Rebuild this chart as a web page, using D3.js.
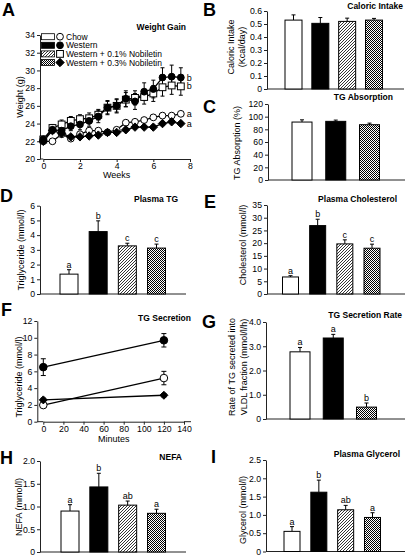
<!DOCTYPE html>
<html><head><meta charset="utf-8">
<script src="https://cdn.jsdelivr.net/npm/d3@7/dist/d3.min.js"></script>
<style>
body{margin:0;background:#fff}
svg{display:block;font-family:"Liberation Sans",Arial,sans-serif}
</style></head><body>
<svg id="c" width="405" height="557"></svg>
<script>
// ---------------- data ----------------
const groups = ["Chow","Western","Western + 0.1% Nobiletin","Western + 0.3% Nobiletin"];
// A: weight gain
const weeks = [0,0.5,1,1.5,2,2.5,3,3.5,4,4.5,5,5.5,6,6.5,7,7.5];
const wtChow = [22.0,22.0,22.8,22.3,22.8,23.2,23.2,23.0,23.3,24.1,24.2,24.4,24.7,24.9,24.9,25.1];
const wtChowErr = [0.2,0.2,0.3,0.2,0.3,0.3,0.2,0.2,0.2,0.2,0.2,0.2,0.2,0.2,0.2,0.2];
const wtWestern = [22.2,23.3,23.2,23.7,23.9,24.3,24.8,25.8,26.0,26.8,26.5,27.6,27.9,29.2,29.3,29.2];
const wtWesternErr = [0.4,0.4,0.5,0.5,0.6,0.6,0.7,0.8,0.8,0.9,0.9,1.0,1.0,1.1,1.3,1.1];
const wt01 = [22.2,23.5,23.9,24.3,24.5,24.6,25.0,25.8,26.0,26.7,26.9,27.0,27.4,28.1,28.3,28.2];
const wt01Err = [0.3,0.4,0.5,0.5,0.5,0.6,0.6,0.7,0.7,0.8,0.8,0.8,0.9,1.0,1.0,1.0];
const wt03 = [22.0,23.2,22.9,22.5,22.5,22.6,22.7,23.0,23.0,23.3,23.6,23.6,23.6,24.0,24.2,24.0];
const wt03Err = [0.2,0.2,0.2,0.2,0.2,0.2,0.2,0.2,0.2,0.2,0.2,0.2,0.2,0.2,0.2,0.2];
const wtSig = ["a","b","b","a"];
const weekTicks = [0,2,4,6,8];
const weightTicks = [20,22,24,26,28,30,32,34];
// B: caloric intake
const calIntake = [0.53,0.505,0.52,0.53];
const calIntakeErr = [0.04,0.045,0.025,0.013];
const calTicks = [0,0.1,0.2,0.3,0.4,0.5,0.6];
// C: TG absorption
const tgAbsGroups = [0,1,3];
const tgAbs = [91.5,92.6,87.3];
const tgAbsErr = [3.5,2,2.5];
const tgAbsTicks = [0,20,40,60,80,100,120];
// D: plasma TG
const plasmaTG = [1.35,4.24,3.27,3.12];
const plasmaTGErr = [0.3,0.73,0.18,0.27];
const plasmaTGSig = ["a","b","c","c"];
const plasmaTGTicks = [0,1,2,3,4,5,6];
// E: plasma cholesterol
const chol = [6.7,26.9,19.7,18.0];
const cholErr = [0.5,2.5,1.6,1.6];
const cholSig = ["a","b","c","c"];
const cholTicks = [0,5,10,15,20,25,30,35];
// F: TG secretion
const secMinutes = [0,120];
const secChow = [1.98,5.2];
const secChowErr = [0.3,0.8];
const secWestern = [6.5,9.7];
const secWesternErr = [1.0,0.8];
const sec03 = [2.6,3.15];
const sec03Err = [0.2,0.2];
const minuteTicks = [0,20,40,60,80,100,120,140];
const secTicks = [0,2,4,6,8,10,12];
// G: TG secretion rate
const secRateGroups = [0,1,3];
const secRate = [2.77,3.34,0.49];
const secRateErr = [0.18,0.15,0.17];
const secRateSig = ["a","a","b"];
const secRateTicks = [0,1,2,3,4];
// H: NEFA
const nefa = [0.9,1.43,1.03,0.85];
const nefaErr = [0.14,0.3,0.09,0.09];
const nefaSig = ["a","b","ab","a"];
const nefaTicks = [0,0.5,1,1.5,2];
// I: glycerol
const glycerol = [0.55,1.62,1.14,0.93];
const glycerolErr = [0.13,0.33,0.12,0.13];
const glycerolSig = ["a","b","ab","a"];
const glycerolTicks = [0,0.5,1,1.5,2,2.5];

// ---------------- drawing ----------------
const svg = d3.select("#c");
svg.append("rect").attr("width",405).attr("height",557).attr("fill","#fff");
const defs = svg.append("defs");
const hatch = defs.append("pattern").attr("id","hatch").attr("patternUnits","userSpaceOnUse").attr("width",3).attr("height",3);
hatch.append("rect").attr("width",3).attr("height",3).attr("fill","#fff");
hatch.append("path").attr("d","M-1,1 L1,-1 M0,3 L3,0 M2,4 L4,2").attr("stroke","#000").attr("stroke-width",0.8);
const check = defs.append("pattern").attr("id","check").attr("patternUnits","userSpaceOnUse").attr("width",2).attr("height",2);
check.append("rect").attr("width",2).attr("height",2).attr("fill","#fff");
check.append("rect").attr("width",1).attr("height",1).attr("fill","#000");
check.append("rect").attr("x",1).attr("y",1).attr("width",1).attr("height",1).attr("fill","#000");
const fills = ["#fff","#000","url(#hatch)","url(#check)"];
const AX = "#222";

function styleAxis(sel){
  sel.selectAll("path,line").attr("stroke",AX).attr("stroke-width",1);
  sel.selectAll("text").attr("fill","#000").style("font-size","8.7px").style("font-family","'Liberation Sans',Arial,sans-serif");
}
function panelLetter(t,x,y){
  svg.append("text").attr("x",x).attr("y",y).text(t).attr("font-weight","bold").attr("font-size",18);
}
function title(t,x,y){
  svg.append("text").attr("x",x).attr("y",y).text(t).attr("font-weight","bold").attr("font-size",8.5).attr("text-anchor","end");
}
function ylabel(lines,x,y,gap){
  lines.forEach((l,i)=>{
    svg.append("text").attr("transform",`translate(${x+i*gap},${y}) rotate(-90)`)
      .attr("text-anchor","middle").attr("dominant-baseline","central").attr("font-size",9).text(l);
  });
}
const fmt1 = d3.format(".1f");
function barPanel(o){
  const y = d3.scaleLinear().domain(o.yDomain).range([o.bottom,o.top]);
  const gi = o.gIdx || [0,1,2,3];
  const x = d3.scalePoint().domain(gi).range([o.c0,o.c1]);
  const g = svg.append("g");
  const ax = g.append("g").attr("transform",`translate(${o.left},0)`)
    .call(d3.axisLeft(y).tickValues(o.ticks).tickFormat(o.fmt).tickSize(3).tickSizeOuter(0).tickPadding(2));
  styleAxis(ax);
  g.append("line").attr("x1",o.left).attr("x2",o.right).attr("y1",y(0)).attr("y2",y(0)).attr("stroke",AX);
  o.values.forEach((v,i)=>{
    const cx = x(gi[i]);
    const e = o.errs[i];
    g.append("line").attr("x1",cx).attr("x2",cx).attr("y1",y(v)).attr("y2",y(v+e)).attr("stroke","#000").attr("stroke-width",1);
    g.append("line").attr("x1",cx-2).attr("x2",cx+2).attr("y1",y(v+e)).attr("y2",y(v+e)).attr("stroke","#000").attr("stroke-width",1);
    g.append("rect").attr("x",cx-o.w/2).attr("y",y(v)).attr("width",o.w).attr("height",y(0)-y(v))
      .attr("fill",fills[gi[i]]).attr("stroke","#000").attr("stroke-width",1);
    if(o.sig){
      g.append("text").attr("x",cx).attr("y",y(v+e)-2).attr("text-anchor","middle").attr("font-size",9).text(o.sig[i]);
    }
  });
}

// ----- Panel A -----
(function(){
  const x = d3.scaleLinear().domain([0,8]).range([43.3,190]);
  const y = d3.scaleLinear().domain([20,34]).range([159,35]);
  const ax = svg.append("g").attr("transform","translate(40,0)")
    .call(d3.axisLeft(y).tickValues(weightTicks).tickSize(3).tickSizeOuter(0).tickPadding(2));
  styleAxis(ax);
  const bx = svg.append("g").attr("transform","translate(0,159)")
    .call(d3.axisBottom(x).tickValues(weekTicks).tickSize(3).tickSizeOuter(0).tickPadding(1));
  styleAxis(bx);
  svg.append("line").attr("x1",40).attr("x2",x(0)).attr("y1",159).attr("y2",159).attr("stroke",AX);
  svg.append("text").attr("x",x(4)).attr("y",178).attr("text-anchor","middle").attr("font-size",9).text("Weeks");
  ylabel(["Weight  (g)"],20,97,0);
  const series = [
    {v:wtChow,e:wtChowErr,m:"circle",f:"#fff"},
    {v:wt01,e:wt01Err,m:"square",f:"#fff"},
    {v:wtWestern,e:wtWesternErr,m:"circle",f:"#000"},
    {v:wt03,e:wt03Err,m:"diamond",f:"#000"}
  ];
  const line = d3.line().x((d,i)=>x(weeks[i])).y(d=>y(d));
  series.forEach(s=>{
    svg.append("path").attr("d",line(s.v)).attr("fill","none").attr("stroke","#000").attr("stroke-width",1.3);
  });
  series.forEach(s=>{
    s.v.forEach((v,i)=>{
      const cx=x(weeks[i]);
      svg.append("line").attr("x1",cx).attr("x2",cx).attr("y1",y(v-s.e[i])).attr("y2",y(v+s.e[i])).attr("stroke","#000");
      [v-s.e[i],v+s.e[i]].forEach(t=>svg.append("line").attr("x1",cx-2).attr("x2",cx+2).attr("y1",y(t)).attr("y2",y(t)).attr("stroke","#000"));
    });
  });
  function marker(m,cx,cy,f){
    if(m==="circle") svg.append("circle").attr("cx",cx).attr("cy",cy).attr("r",3.4).attr("fill",f).attr("stroke","#000");
    else if(m==="square") svg.append("rect").attr("x",cx-3.4).attr("y",cy-3.4).attr("width",6.8).attr("height",6.8).attr("fill",f).attr("stroke","#000");
    else svg.append("path").attr("d",`M${cx},${cy-4.2} L${cx+4.2},${cy} L${cx},${cy+4.2} L${cx-4.2},${cy} Z`).attr("fill",f).attr("stroke","#000");
  }
  series.forEach(s=>s.v.forEach((v,i)=>marker(s.m,x(weeks[i]),y(v),s.f)));
  // significance letters
  const last = weeks.length-1;
  [[wtWestern,wtSig[1]],[wt01,wtSig[2]],[wtChow,wtSig[0]],[wt03,wtSig[3]]].forEach(([arr,t])=>{
    svg.append("text").attr("x",x(weeks[last])+6).attr("y",y(arr[last])).attr("dominant-baseline","central").attr("font-size",9).text(t);
  });
  // legend
  const lm = ["circle","circle","square","diamond"], lf=["#fff","#000","#fff","#000"];
  groups.forEach((gname,i)=>{
    const ly = 36.7 + i*8.6;
    svg.append("rect").attr("x",41.5).attr("y",ly-3).attr("width",13).attr("height",6).attr("fill",fills[i]).attr("stroke","#000").attr("stroke-width",0.8);
    marker(lm[i],60,ly,lf[i]);
    svg.append("text").attr("x",66).attr("y",ly).attr("dominant-baseline","central").attr("font-size",8.5).text(gname);
  });
  panelLetter("A",2,16);
  title("Weight Gain",186,30);
})();

// ----- Panel B -----
barPanel({values:calIntake,errs:calIntakeErr,yDomain:[0,0.6],ticks:calTicks,fmt:d=>d===0?"0":fmt1(d),
  left:267,right:404,top:11,bottom:89,c0:293.5,c1:374,w:17});
ylabel(["Caloric Intake","(Kcal/day)"],231,47,11);
panelLetter("B",203,16);
title("Caloric Intake",403,9);

// ----- Panel C -----
barPanel({gIdx:tgAbsGroups,values:tgAbs,errs:tgAbsErr,yDomain:[0,120],ticks:tgAbsTicks,fmt:d3.format("d"),
  left:268,right:405,top:104,bottom:180,c0:302,c1:369.5,w:20});
ylabel(["TG Absorption (%)"],237,143,0);
panelLetter("C",203,113);
title("TG Absorption",393,100);

// ----- Panel D -----
barPanel({values:plasmaTG,errs:plasmaTGErr,sig:plasmaTGSig,yDomain:[0,6],ticks:plasmaTGTicks,fmt:d3.format("d"),
  left:40,right:186,top:205.7,bottom:294,c0:69,c1:156.5,w:18});
ylabel(["Triglyceride  (mmol/l)"],21,250,0);
panelLetter("D",0,202);
title("Plasma TG",178,202);

// ----- Panel E -----
barPanel({values:chol,errs:cholErr,sig:cholSig,yDomain:[0,35],ticks:cholTicks,fmt:d3.format("d"),
  left:267,right:405,top:205,bottom:294,c0:290.5,c1:372,w:16});
ylabel(["Cholesterol (mmol/l)"],243,245,0);
panelLetter("E",204,208);
title("Plasma Cholesterol",397,202);

// ----- Panel F -----
(function(){
  const x = d3.scaleLinear().domain([0,140]).range([43.3,184]);
  const y = d3.scaleLinear().domain([0,12]).range([421.7,321]);
  const ax = svg.append("g").attr("transform","translate(37.3,0)")
    .call(d3.axisLeft(y).tickValues(secTicks).tickSize(3).tickSizeOuter(0).tickPadding(2));
  styleAxis(ax);
  const bx = svg.append("g").attr("transform","translate(0,421.7)")
    .call(d3.axisBottom(x).tickValues(minuteTicks).tickSize(3).tickSizeOuter(0).tickPadding(1));
  styleAxis(bx);
  svg.append("line").attr("x1",37.3).attr("x2",x(0)).attr("y1",421.7).attr("y2",421.7).attr("stroke",AX);
  svg.append("line").attr("x1",x(140)).attr("x2",191).attr("y1",421.7).attr("y2",421.7).attr("stroke",AX);
  svg.append("text").attr("x",x(70)).attr("y",442).attr("text-anchor","middle").attr("font-size",9).text("Minutes");
  ylabel(["Triglyceride  (mmol/l)"],19,377,0);
  const series=[
    {v:secWestern,e:secWesternErr,m:"circle",f:"#000"},
    {v:secChow,e:secChowErr,m:"circle",f:"#fff"},
    {v:sec03,e:sec03Err,m:"diamond",f:"#000"}
  ];
  const line = d3.line().x((d,i)=>x(secMinutes[i])).y(d=>y(d));
  series.forEach(s=>svg.append("path").attr("d",line(s.v)).attr("fill","none").attr("stroke","#000").attr("stroke-width",1.3));
  series.forEach(s=>s.v.forEach((v,i)=>{
    const cx=x(secMinutes[i]);
    svg.append("line").attr("x1",cx).attr("x2",cx).attr("y1",y(v-s.e[i])).attr("y2",y(v+s.e[i])).attr("stroke","#000");
    [v-s.e[i],v+s.e[i]].forEach(t=>svg.append("line").attr("x1",cx-2.5).attr("x2",cx+2.5).attr("y1",y(t)).attr("y2",y(t)).attr("stroke","#000"));
  }));
  series.forEach(s=>s.v.forEach((v,i)=>{
    const cx=x(secMinutes[i]), cy=y(v);
    if(s.m==="circle") svg.append("circle").attr("cx",cx).attr("cy",cy).attr("r",3.8).attr("fill",s.f).attr("stroke","#000");
    else svg.append("path").attr("d",`M${cx},${cy-4} L${cx+4},${cy} L${cx},${cy+4} L${cx-4},${cy} Z`).attr("fill",s.f).attr("stroke","#000");
  }));
  panelLetter("F",1,316);
  title("TG Secretion",191,321);
})();

// ----- Panel G -----
barPanel({gIdx:secRateGroups,values:secRate,errs:secRateErr,sig:secRateSig,yDomain:[0,4],ticks:secRateTicks,fmt:d=>d===0?"0":fmt1(d),
  left:266,right:405,top:322,bottom:419,c0:300,c1:366.5,w:20});
ylabel(["Rate of TG secreted into","VLDL fraction  (mmol/l/h)"],232,367,11.5);
panelLetter("G",202,328);
title("TG Secretion Rate",402,318);

// ----- Panel H -----
barPanel({values:nefa,errs:nefaErr,sig:nefaSig,yDomain:[0,2],ticks:nefaTicks,fmt:d=>d===0?"0":fmt1(d),
  left:40,right:186,top:461,bottom:552,c0:70,c1:156.5,w:18});
ylabel(["NEFA (mmol/l)"],19,507,0);
panelLetter("H",0,464);
title("NEFA",182,460);

// ----- Panel I -----
barPanel({values:glycerol,errs:glycerolErr,sig:glycerolSig,yDomain:[0,2.5],ticks:glycerolTicks,fmt:d=>d===0?"0":fmt1(d),
  left:266,right:405,top:460,bottom:551.5,c0:292,c1:372.5,w:16});
ylabel(["Glycerol (mmol/l)"],243,510,0);
panelLetter("I",211,463);
title("Plasma Glycerol",400,457);
</script>
</body></html>
